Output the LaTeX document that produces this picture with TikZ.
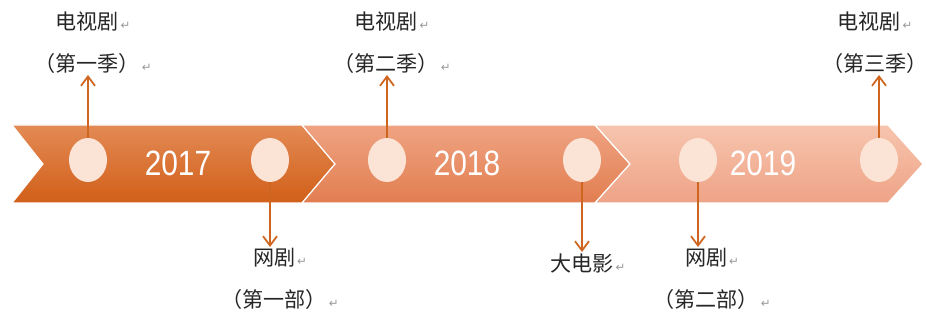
\documentclass[tikz,border=0pt]{standalone}
\usepackage{fontspec}
\usepackage{xcolor}
\usepackage{tikz}
\usetikzlibrary{arrows.meta,shapes.geometric}
\setmainfont{Liberation Sans}
\newfontfamily\cjk{Noto Sans CJK SC}
\newfontfamily\symb{DejaVu Sans}
\newfontfamily\yearfont[FakeStretch=0.85]{Liberation Sans}
\definecolor{bandAtop}{HTML}{E38A55}
\definecolor{bandAbot}{HTML}{D15F18}
\definecolor{bandBtop}{HTML}{EFA382}
\definecolor{bandBbot}{HTML}{E27E50}
\definecolor{bandCtop}{HTML}{F7C4AE}
\definecolor{bandCbot}{HTML}{EEA386}
\definecolor{dotfill}{HTML}{FBE4D6}
\definecolor{linkcol}{HTML}{CF6620}
\definecolor{txt}{HTML}{262626}
\newcommand{\pmark}{{\symb\fontsize{10}{10}\selectfont\color{gray!80}\,↵}}

\begin{document}
\begin{tikzpicture}[x=0.03cm,y=-0.03cm,>={Straight Barb[length=8pt,width=12pt]},
  dot/.style={ellipse,fill=dotfill,minimum width=1.14cm,minimum height=1.32cm,inner sep=0pt},
  evt/.style={font=\cjk\fontsize{18}{36}\selectfont,text=txt,align=center,inner sep=1pt},
  year/.style={font=\yearfont\fontsize{30}{30}\selectfont,text=white},
  link/.style={->,draw=linkcol,line width=1.5pt}]
\useasboundingbox (0,0) rectangle (926,320);

% chevrons
\draw[white,line width=1pt,top color=bandAtop,bottom color=bandAbot]
  (12,125) -- (302,125) -- (335,164) -- (302,203) -- (12,203) -- (43,164) -- cycle;
\draw[white,line width=1pt,top color=bandBtop,bottom color=bandBbot]
  (302,125) -- (595,125) -- (630,164) -- (595,203) -- (302,203) -- (335,164) -- cycle;
\draw[white,line width=1pt,top color=bandCtop,bottom color=bandCbot]
  (595,125) -- (888,125) -- (923,164) -- (888,203) -- (595,203) -- (630,164) -- cycle;

\node[year] (Y1) at (178,163) {2017};
\node[year] (Y2) at (467,163) {2018};
\node[year] (Y3) at (763,163) {2019};

\node[dot] (A) at (88,160)  {};
\node[dot] (B) at (270,160) {};
\node[dot] (C) at (387,160) {};
\node[dot] (D) at (582,160) {};
\node[dot] (E) at (698,160) {};
\node[dot] (F) at (879,160) {};

\node[evt,anchor=south] (tA) at (93,75)   {电视剧\pmark\\（第一季）\pmark};
\node[evt,anchor=north] (tB) at (280,247) {网剧\pmark\\（第一部）\pmark};
\node[evt,anchor=south] (tC) at (392,75)  {电视剧\pmark\\（第二季）\pmark};
\node[evt,anchor=north] (tD) at (588,252) {大电影\pmark};
\node[evt,anchor=north] (tE) at (712,247) {网剧\pmark\\（第二部）\pmark};
\node[evt,anchor=south] (tF) at (875,75)  {电视剧\pmark\\（第三季）};

\draw[link] (A.north) -- (A |- tA.south);
\draw[link] (B.south) -- (B |- tB.north);
\draw[link] (C.north) -- (C |- tC.south);
\draw[link] (D.south) -- (D |- tD.north);
\draw[link] (E.south) -- (E |- tE.north);
\draw[link] (F.north) -- (F |- tF.south);

\end{tikzpicture}
\end{document}
